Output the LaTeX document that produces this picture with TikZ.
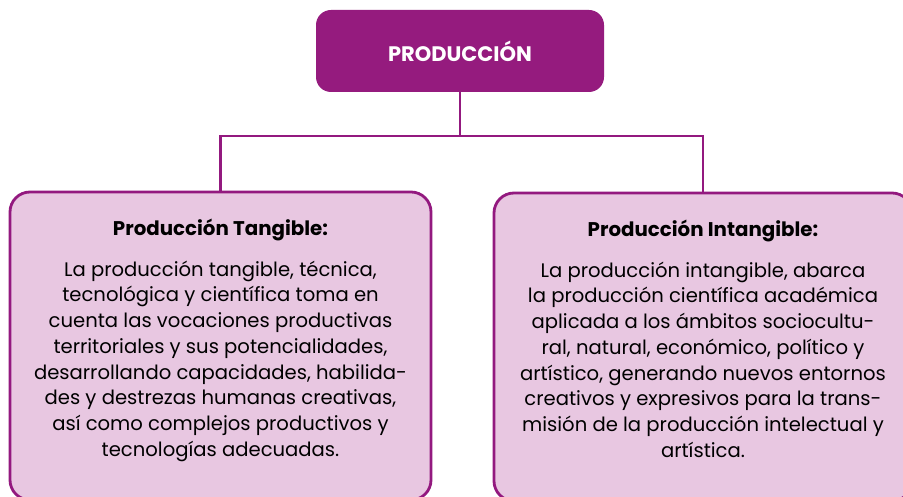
\documentclass[tikz,border=0pt]{standalone}
\usepackage{fontspec}
\setmainfont{Poppins}
\usetikzlibrary{positioning, calc}
\definecolor{headcolor}{RGB}{149, 27, 126}
\definecolor{bordercolor}{RGB}{147, 25, 127}
\definecolor{cardcolor}{RGB}{232, 199, 225}

\tikzset{
  cardbox/.style={draw=bordercolor, line width=2.8pt, fill=cardcolor, rounded corners=20pt, minimum width=421pt, minimum height=308pt, inner sep=0pt},
  cardtitle/.style={font=\fontsize{19.8}{22}\selectfont\bfseries, inner sep=0pt},
  cardtext/.style={font=\fontsize{19.6}{25.7}\selectfont, align=center, inner sep=0pt},
  link/.style={draw=bordercolor, line width=2.5pt}
}

\begin{document}
\begin{tikzpicture}[x=1pt, y=1pt]
        \clip (0,0) rectangle (903,497);
        \fill[white] (0,0) rectangle (903,497);

        % Head of the tree
        \node[fill=headcolor, rounded corners=15pt, minimum width=288pt, minimum height=82pt, font=\fontsize{21}{24}\selectfont\bfseries, text=white] (head) at (460, 446) {PRODUCCIÓN};

        % Cards below
        \node[cardbox] (tangible) at (220.5, 151) {};
        \node[cardbox, minimum width=418pt] (intangible) at (703, 150) {};

        % Connectors
        \draw[link] (head.south) -- ++(0,-44) coordinate (split);
        \draw[link] (split) -| (tangible.north);
        \draw[link] (split) -| (intangible.north);

        % Card titles
        \node[cardtitle, anchor=base] (tangtitle) at ($(tangible.north)+(0,-45)$) {Producción Tangible:};
        \node[cardtitle, anchor=base] (intangtitle) at ($(intangible.north)+(0,-45)$) {Producción Intangible:};

        % Card texts
        \node[cardtext, anchor=north] (tangtext) at ($(tangible.north)+(0,-70)$) {La producción tangible, técnica,\\ tecnológica y científica toma en\\ cuenta las vocaciones productivas\\ territoriales y sus potencialidades,\\ desarrollando capacidades, habilida-\\ des y destrezas humanas creativas,\\ así como complejos productivos y\\ tecnologías adecuadas.};
        \node[cardtext, anchor=north] (intangtext) at ($(intangible.north)+(0,-70)$) {La producción intangible, abarca\\ la producción científica académica\\ aplicada a los ámbitos sociocultu-\\ ral, natural, económico, político y\\ artístico, generando nuevos entornos\\ creativos y expresivos para la trans-\\ misión de la producción intelectual y\\ artística.};
\end{tikzpicture}
\end{document}
